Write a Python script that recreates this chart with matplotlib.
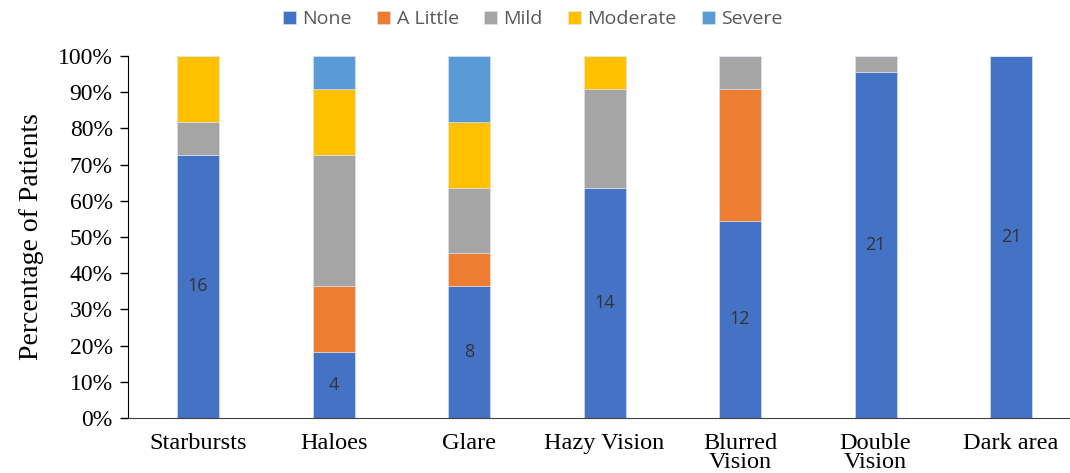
import matplotlib.pyplot as plt
import numpy as np

# 症状类别与各等级人数
categories = ["Starbursts", "Haloes", "Glare", "Hazy Vision",
              "Blurred\nVision", "Double\nVision", "Dark area"]
levels = ["None", "A Little", "Mild", "Moderate", "Severe"]
none_n = [16, 4, 8, 14, 12, 21, 21]
little_n = [0, 4, 2, 0, 8, 0, 0]
mild_n = [2, 8, 4, 6, 2, 1, 0]
moderate_n = [4, 4, 4, 2, 0, 0, 0]
severe_n = [0, 2, 4, 0, 0, 0, 0]
colors = ["#4472C4", "#ED7D31", "#A5A5A5", "#FFC000", "#5B9BD5"]

counts = np.array([none_n, little_n, mild_n, moderate_n, severe_n], dtype=float)
totals = counts.sum(axis=0)
pct = counts / totals * 100

fig = plt.figure(figsize=(10.7, 4.73), dpi=100)
ax = fig.add_axes([128 / 1070, 55 / 473, 7 * 135.5 / 1070, 362 / 473])

x = np.arange(len(categories))
bottom = np.zeros(len(categories))
for i, lv in enumerate(levels):
    ax.bar(x, pct[i], 0.31, bottom=bottom, color=colors[i], label=lv,
           edgecolor="#dfe6f3", linewidth=0.4)
    if i == 0:
        for xi, b, h, n in zip(x, bottom, pct[i], counts[i]):
            ax.text(xi, b + h / 2, f"{int(n)}", ha="center", va="center",
                    fontsize=13, color="#333333", family="Open Sans")
    bottom += pct[i]

ax.set_xlim(-0.517, 6.483)
ax.set_ylim(0, 100)
ax.set_yticks(np.arange(0, 101, 10))
ax.set_yticklabels([f"{v}%" for v in range(0, 101, 10)], family="Liberation Serif", fontsize=17)
ax.set_xticks(x)
ax.set_xticklabels(categories, family="Liberation Serif", fontsize=17.5, linespacing=0.85)
ax.tick_params(axis="x", length=0, pad=11)
ax.tick_params(axis="y", length=6, width=1, direction="out", pad=5)
ax.spines["top"].set_visible(False)
ax.spines["right"].set_visible(False)
ax.spines["left"].set_color("black")
ax.spines["bottom"].set_color("#404040")
ax.set_ylabel("Percentage of Patients", family="Liberation Serif", fontsize=20, labelpad=10)

fig.legend(loc="upper center", bbox_to_anchor=(0.498, 1.016), ncol=5, frameon=False,
           prop={"family": "Open Sans", "size": 14}, handlelength=0.65, handleheight=0.65,
           columnspacing=1.3, handletextpad=0.35, labelcolor="#595959")

fig.savefig("out.png", dpi=100)
